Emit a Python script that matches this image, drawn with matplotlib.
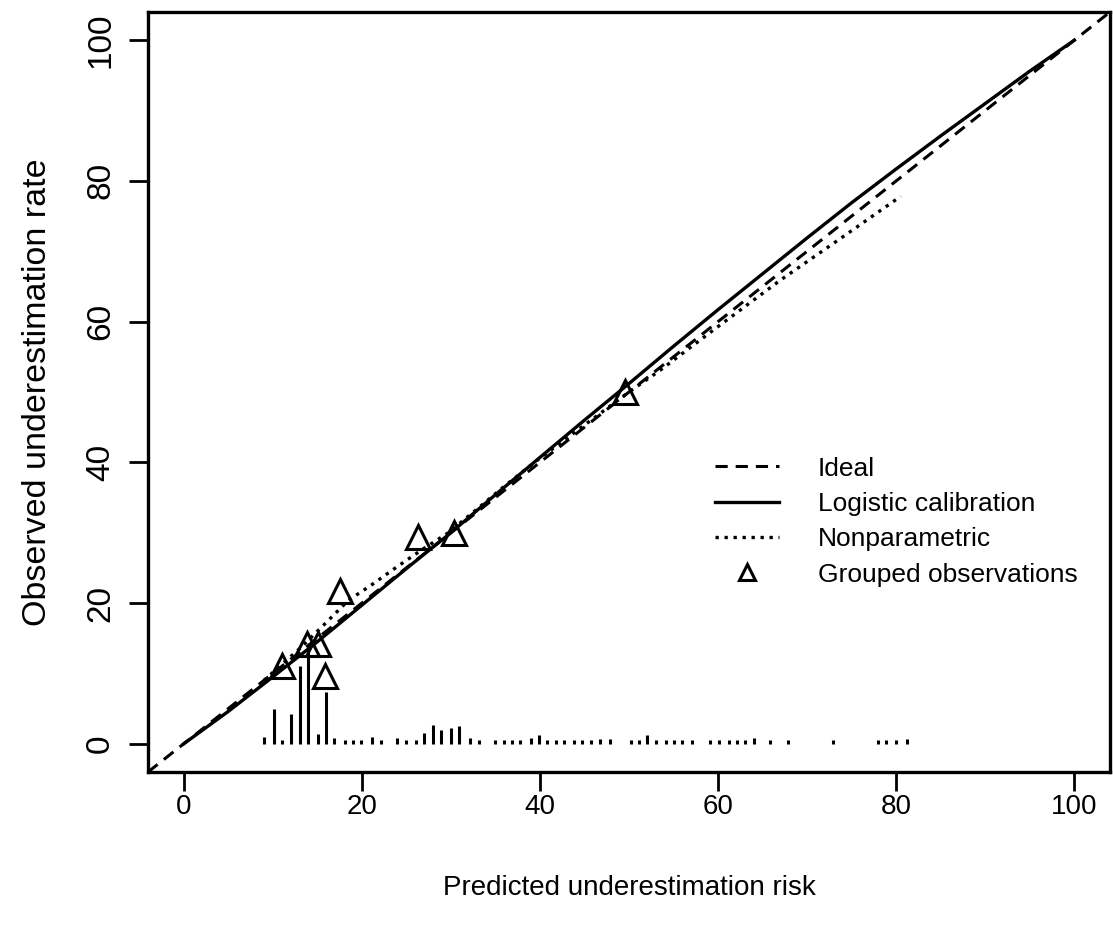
import matplotlib
matplotlib.use("Agg")
import matplotlib.pyplot as plt

plt.rcParams['font.family'] = ['Liberation Sans', 'DejaVu Sans']

# ---- data (percent scale) ----
ideal_x = [-4, 104]
ideal_y = [-4, 104]

logistic_x = [0, 5, 10, 15, 20, 25, 30, 35, 40, 45, 50, 55, 60, 65, 70, 75, 80, 85, 90, 95, 100]
logistic_y = [0, 4.6, 9.5, 14.5, 19.7, 24.9, 30.0, 35.4, 40.7, 46.0, 51.2, 56.5, 61.7,
              66.8, 71.9, 76.9, 81.7, 86.4, 91.0, 95.6, 100]

nonpar_x = [9.0, 13.0, 15.5, 18.5, 21.0, 24.0, 27.0, 29.6, 32.6, 36.0, 40.0, 45.0,
            50.0, 53.5, 60.0, 67.0, 73.5, 80.5]
nonpar_y = [9.0, 13.5, 16.6, 20.4, 22.5, 25.2, 27.8, 29.9, 33.0, 36.6, 40.6, 45.3,
            50.0, 53.1, 59.3, 65.9, 71.6, 77.8]

group_x = [11.0, 13.8, 15.1, 15.9, 17.6, 26.3, 30.4, 49.6]
group_y = [11.1, 14.2, 14.2, 9.7, 21.7, 29.4, 29.9, 50.0]

spike_x = [9.0, 10.1, 11.0, 12.1, 13.1, 14.0, 15.1, 16.0, 16.9, 18.1, 19.0, 19.9,
           21.1, 22.2, 24.0, 25.0, 26.1, 27.0, 28.0, 28.9, 30.0, 30.9, 32.1, 33.2,
           35.0, 36.0, 36.9, 37.8, 39.0, 39.9, 40.8, 41.8, 42.7, 43.8, 44.7, 45.7,
           46.8, 47.9, 50.2, 51.1, 52.0, 53.0, 54.1, 55.0, 55.9, 57.1, 59.1, 60.1,
           61.2, 62.1, 63.0, 64.0, 65.8, 67.9, 72.9, 78.0, 78.9, 80.0, 81.2]
spike_h = [1.0, 5.0, 0.6, 4.3, 11.1, 13.6, 1.4, 7.4, 0.8, 0.5, 0.5, 0.5,
           1.0, 0.5, 0.8, 0.5, 0.5, 1.5, 2.7, 2.0, 2.3, 2.5, 0.8, 0.5,
           0.5, 0.5, 0.5, 0.5, 0.8, 1.2, 0.5, 0.5, 0.5, 0.5, 0.5, 0.5,
           0.7, 0.7, 0.5, 0.5, 1.2, 0.5, 0.5, 0.5, 0.5, 0.5, 0.5, 0.5,
           0.5, 0.5, 0.5, 0.8, 0.5, 0.5, 0.5, 0.5, 0.5, 0.5, 0.7]

ticks = [0, 20, 40, 60, 80, 100]

# ---- figure ----
fig = plt.figure(figsize=(11.13, 9.32), dpi=100)
ax = fig.add_axes([148/1113, 1 - 772/932, (1110-148)/1113, (772-12)/932])

ax.plot(ideal_x, ideal_y, color='black', lw=2.2, linestyle=(0, (4, 2.6)), label='Ideal')
ax.plot(logistic_x, logistic_y, color='black', lw=2.4, label='Logistic calibration')
ax.plot(nonpar_x, nonpar_y, color='black', lw=2.4, linestyle=(0, (1, 1.7)),
        label='Nonparametric')
ax.plot(group_x, group_y, linestyle='none', marker='^', markersize=17,
        markerfacecolor='none', markeredgecolor='black', markeredgewidth=2.2,
        label='Grouped observations')
ax.vlines(spike_x, 0, spike_h, color='black', lw=2.2)

ax.set_xlim(-4, 104)
ax.set_ylim(-4, 104)
ax.set_xticks(ticks)
ax.set_yticks(ticks)
ax.set_xticklabels([str(t) for t in ticks], fontsize=20)
ax.set_yticklabels([str(t) for t in ticks], rotation=90, va='center', fontsize=24)
ax.tick_params(axis='both', direction='out', length=14, width=2)
ax.tick_params(axis='x', pad=1.5)
ax.tick_params(axis='y', pad=9)
for s in ax.spines.values():
    s.set_linewidth(2.4)

ax.set_xlabel('Predicted underestimation risk', fontsize=20, labelpad=40)
ax.set_ylabel('Observed underestimation rate', fontsize=24.5, labelpad=23)

leg = ax.legend(loc='upper left', bbox_to_anchor=(0.589, 0.415), frameon=False,
                fontsize=19, handlelength=2.45, handletextpad=1.45,
                labelspacing=0.43, borderpad=0, borderaxespad=0, markerscale=0.7)

fig.savefig('out.png', dpi=100)
